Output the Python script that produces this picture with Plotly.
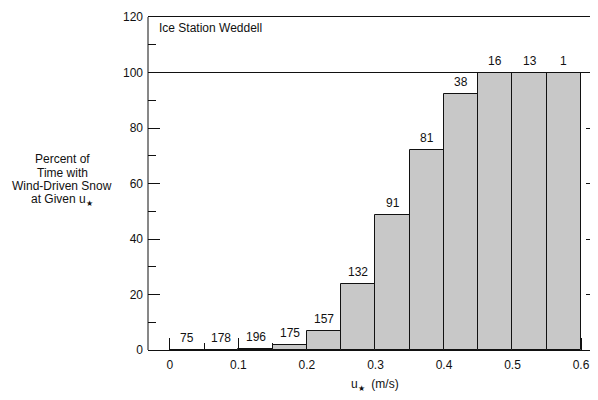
import plotly.graph_objects as go

# ---- data ----
bin_start = [0.0, 0.05, 0.10, 0.15, 0.20, 0.25, 0.30, 0.35, 0.40, 0.45, 0.50, 0.55]
bin_width = 0.05
percent = [0, 0, 0.5, 1.8, 7.0, 23.7, 48.7, 72.0, 92.3, 100, 100, 100]
counts = [75, 178, 196, 175, 157, 132, 91, 81, 38, 16, 13, 1]
x_ticks = [0, 0.1, 0.2, 0.3, 0.4, 0.5, 0.6]
x_tick_labels = ["0", "0.1", "0.2", "0.3", "0.4", "0.5", "0.6"]
y_ticks = [0, 20, 40, 60, 80, 100, 120]

centers = [s + bin_width / 2 for s in bin_start]

FONT = "Liberation Sans, Arial, Helvetica, sans-serif"
INK = "#111111"

# page body has an 8px default margin; lay out in page pixels and convert
OFF = 8
W, H = 590, 392
L, R, T, B = 140, 0, 9, 50
pw, ph = W - L - R, H - T - B


def scr_to_paper(sx, sy):
    fx, fy = sx - OFF, sy - OFF
    return (fx - L) / pw, (H - B - fy) / ph


fig = go.Figure()
fig.add_trace(go.Bar(
    x=centers, y=percent, width=[bin_width] * len(centers),
    marker=dict(color="#c8c8c8", line=dict(color=INK, width=1)),
    showlegend=False, hoverinfo="skip",
))

annotations = []
for c, p, n in zip(centers, percent, counts):
    annotations.append(dict(x=c, y=p, xref="x", yref="y", text=str(n), showarrow=False,
                            yanchor="bottom", xanchor="center", yshift=3,
                            font=dict(size=12, color=INK, family=FONT)))

# chart title (top-left); the page margin leaves no room above the frame,
# so it sits just beneath the top frame line
tx, ty = scr_to_paper(157, 19)
annotations.append(dict(x=tx, y=ty, xref="paper", yref="paper", text="Ice Station Weddell",
                        showarrow=False, xanchor="left", yanchor="top",
                        font=dict(size=12, color=INK, family=FONT)))

# y-axis title lines
ylines = ["Percent of", "Time with", "Wind-Driven Snow", "at Given u<sub>★</sub>"]
for t, yy in zip(ylines, [159, 173, 186, 200]):
    px, py = scr_to_paper(62, yy)
    annotations.append(dict(x=px, y=py, xref="paper", yref="paper", text=t, showarrow=False,
                            xanchor="center", yanchor="middle",
                            font=dict(size=12, color=INK, family=FONT)))
# x-axis title
px, py = scr_to_paper(375, 385)
annotations.append(dict(x=px, y=py, xref="paper", yref="paper", text="u<sub>★</sub>  (m/s)",
                        showarrow=False, xanchor="center", yanchor="middle",
                        font=dict(size=12, color=INK, family=FONT)))

fig.update_layout(
    width=W, height=H,
    margin=dict(l=L, r=R, t=T, b=B, pad=0),
    paper_bgcolor="white", plot_bgcolor="white",
    font=dict(family=FONT, size=12, color=INK),
    bargap=0,
    annotations=annotations,
)

fig.update_xaxes(
    range=[-0.032, 0.6248], tickvals=x_ticks, ticktext=x_tick_labels,
    ticks="inside", ticklen=12, tickcolor=INK, tickwidth=1,
    minor=dict(dtick=0.05, tick0=0, ticks="inside", ticklen=7, tickcolor=INK),
    showline=True, linecolor=INK, linewidth=1, mirror=True,
    showgrid=False, zeroline=False, layer="below traces",
    ticklabelstandoff=4,
    tickfont=dict(size=12, color=INK),
)
fig.update_yaxes(
    range=[0, 120], tickvals=y_ticks,
    ticks="inside", ticklen=12, tickcolor=INK, tickwidth=1,
    minor=dict(dtick=10, tick0=0, ticks="inside", ticklen=8, tickcolor=INK),
    showline=False, mirror="ticks",
    showgrid=False, zeroline=False,
    ticklabelstandoff=4,
    tickfont=dict(size=12, color=INK),
)

# left axis line and 100% line
fig.add_shape(type="line", xref="paper", yref="y", x0=0, x1=0, y0=0, y1=120,
              line=dict(color=INK, width=1))
fig.add_shape(type="line", xref="paper", yref="y", x0=0, x1=1, y0=100, y1=100,
              line=dict(color=INK, width=1))

fig.write_html("out.html")
